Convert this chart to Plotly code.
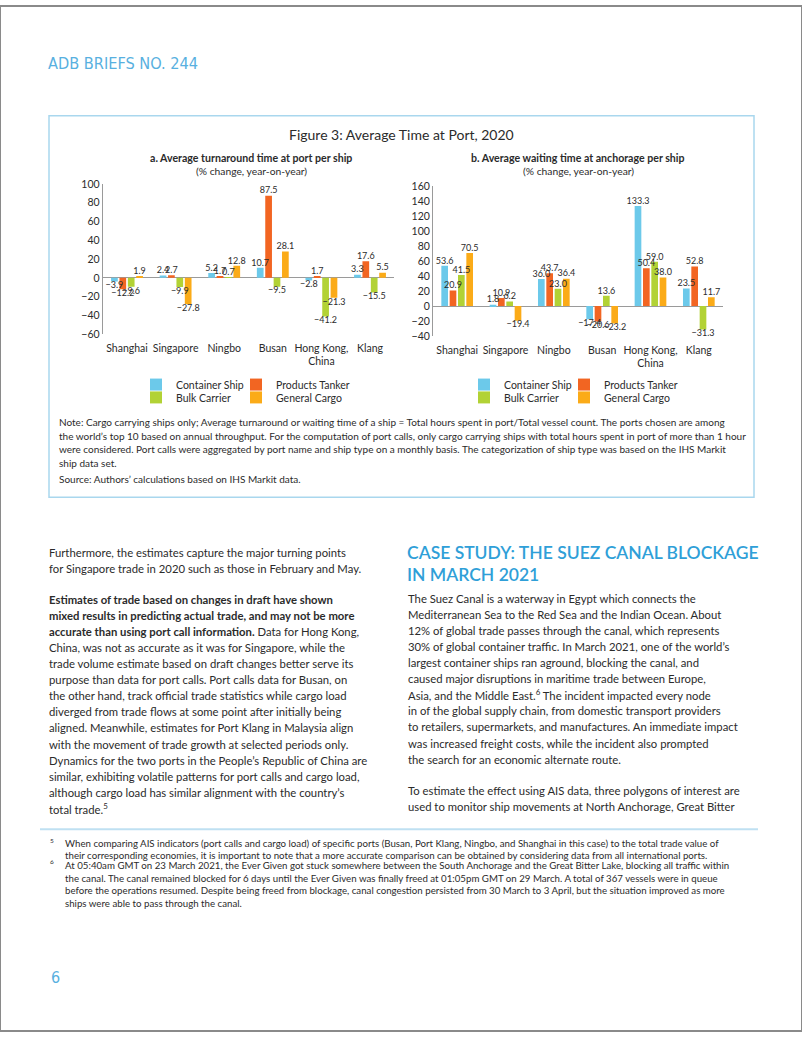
import plotly.graph_objects as go

# ---------------- data ----------------
ports = ["Shanghai", "Singapore", "Ningbo", "Busan", "Hong Kong,<br>China", "Klang"]
ship_types = ["Container Ship", "Products Tanker", "Bulk Carrier", "General Cargo"]

turn_container = [-3.9, 2.4, 5.2, 10.7, -2.8, 3.3]
turn_tanker = [-12.2, 2.7, 1.7, 87.5, 1.7, 17.6]
turn_bulk = [-9.6, -9.9, 0.7, -9.5, -41.2, -15.5]
turn_general = [1.9, -27.8, 12.8, 28.1, -21.3, 5.5]

wait_container = [53.6, 1.8, 36.0, -17.4, 133.3, 23.5]
wait_tanker = [20.9, 10.9, 43.7, -20.6, 50.4, 52.8]
wait_bulk = [41.5, 6.2, 23.0, 13.6, 59.0, -31.3]
wait_general = [70.5, -19.4, 36.4, -23.2, 38.0, 11.7]

turn_ticks = [100, 80, 60, 40, 20, 0, -20, -40, -60]
wait_ticks = [160, 140, 120, 100, 80, 60, 40, 20, 0, -20, -40]

# ---------------- styles ----------------
W, H = 802, 1037
colors = ["#6cc9ea", "#f26522", "#b2d235", "#fbab18"]
CHART_FONT = "Lato, 'Noto Sans', sans-serif"
BODY_FONT = "Lato, 'Noto Sans', sans-serif"
HEAD_FONT = "'Liberation Sans Narrow', 'Arial Narrow', 'DejaVu Sans Condensed', sans-serif"
TXT = "#2b2b2b"
BLUE = "#2f9fd8"
LIGHTBLUE = "#58b0e0"


def X(px):
    return px / W


def Y(py):
    return 1 - py / H


def fmt(v):
    return f"{v:.1f}".replace("-", "\u2212")


fig = go.Figure()

turn_series = [turn_container, turn_tanker, turn_bulk, turn_general]
wait_series = [wait_container, wait_tanker, wait_bulk, wait_general]
legend_ids = [("legend", "legend2"), ("legend3", "legend4")]
legend_widths = [55, 85, 55, 85]

for p, (series, xa, ya) in enumerate([(turn_series, "x", "y"), (wait_series, "x2", "y2")]):
    for i, (name, vals) in enumerate(zip(ship_types, series)):
        fig.add_trace(go.Bar(
            x=ports, y=vals, name=name, offsetgroup=str(i), alignmentgroup="g",
            marker=dict(color=colors[i], line=dict(width=0)),
            xaxis=xa, yaxis=ya, legend=legend_ids[p][0] if i < 2 else legend_ids[p][1],
            legendwidth=legend_widths[i],
        ))
    # value labels, drawn on top of all bars
    for i, (name, vals) in enumerate(zip(ship_types, series)):
        fig.add_trace(go.Scatter(
            x=ports, y=vals, mode="text", offsetgroup=str(i), alignmentgroup="g",
            text=[fmt(v) for v in vals],
            textposition=["top center" if v >= 0 else "bottom center" for v in vals],
            textfont=dict(family=CHART_FONT, size=9, color=TXT), cliponaxis=False,
            showlegend=False, hoverinfo="skip", xaxis=xa, yaxis=ya,
        ))

axis_common = dict(showgrid=False, ticks="", tickfont=dict(family=CHART_FONT, size=10.5, color=TXT))
fig.update_layout(
    width=W, height=H, autosize=False,
    margin=dict(l=0, r=0, t=0, b=0),
    paper_bgcolor="white", plot_bgcolor="white",
    barmode="group", bargap=0.31, bargroupgap=0.2,
    scattermode="group", scattergap=0.31,
    font=dict(family=CHART_FONT, color=TXT),
    xaxis=dict(domain=[X(102.7), X(394.3)], anchor="y", showline=False, zeroline=False,
               ticklabelstandoff=6, **axis_common),
    yaxis=dict(domain=[Y(332), Y(180)], anchor="x", range=[-60, 100], tickvals=turn_ticks,
               showline=True, linecolor="#9a9a9a", linewidth=1,
               zeroline=True, zerolinecolor="#9a9a9a", zerolinewidth=1, **axis_common),
    xaxis2=dict(domain=[X(433), X(723)], anchor="y2", showline=False, zeroline=False,
                ticklabelstandoff=6, **axis_common),
    yaxis2=dict(domain=[Y(334), Y(182)], anchor="x2", range=[-40, 160], tickvals=wait_ticks,
                showline=True, linecolor="#9a9a9a", linewidth=1,
                zeroline=True, zerolinecolor="#9a9a9a", zerolinewidth=1, **axis_common),
)

leg_common = dict(orientation="h", xanchor="left", yanchor="middle", bgcolor="rgba(0,0,0,0)",
                  font=dict(family=CHART_FONT, size=10.5, color=TXT), itemwidth=30,
                  entrywidthmode="pixels", tracegroupgap=0,
                  itemclick=False, itemdoubleclick=False)
fig.update_layout(
    legend=dict(x=X(136), y=Y(383), **leg_common),
    legend2=dict(x=X(136), y=Y(396), **leg_common),
    legend3=dict(x=X(464), y=Y(383), **leg_common),
    legend4=dict(x=X(464), y=Y(396), **leg_common),
)

# ---------------- page furniture ----------------
shapes = [
    dict(type="rect", xref="paper", yref="paper", x0=0, x1=1, y0=0, y1=1,
         line=dict(color="#8a8a8a", width=2), layer="above"),
    dict(type="rect", xref="paper", yref="paper", x0=X(49), x1=X(754), y0=Y(497), y1=Y(111),
         line=dict(color="#a9d7ee", width=1.5), layer="below"),
    dict(type="line", xref="paper", yref="paper", x0=X(40), x1=X(758), y0=Y(833), y1=Y(833),
         line=dict(color="#bfe0f2", width=2)),
]

annotations = []


def ann(text, x, y, size, family=BODY_FONT, color=TXT, xanchor="left", yanchor="middle",
        align="left", weight="normal"):
    annotations.append(dict(text=text, x=X(x), y=Y(y), xref="paper", yref="paper",
                            xanchor=xanchor, yanchor=yanchor, align=align, showarrow=False,
                            borderpad=0,
                            font=dict(family=family, size=size, color=color, weight=weight)))


def lines(items, x, y0, dy, size, **kw):
    for k, t in enumerate(items):
        ann(t, x, y0 + k * dy, size, **kw)


ann("ADB BRIEFS NO. 244", 47, 58, 16.2, family=HEAD_FONT, color=LIGHTBLUE)
ann("Figure 3: Average Time at Port, 2020", 401, 130, 14, family=CHART_FONT,
    xanchor="center", align="center")
ann("<b>a. Average turnaround time at port per ship</b>", 251, 154, 10.6,
    family=CHART_FONT, xanchor="center", align="center")
ann("(% change, year-on-year)", 251, 167, 10.3, family=CHART_FONT, xanchor="center", align="center")
ann("<b>b. Average waiting time at anchorage per ship</b>", 578, 154, 10.6,
    family=CHART_FONT, xanchor="center", align="center")
ann("(% change, year-on-year)", 578, 167, 10.3, family=CHART_FONT, xanchor="center", align="center")

note_lines = [
    "Note: Cargo carrying ships only; Average turnaround or waiting time of a ship = Total hours spent in port/Total vessel count. The ports chosen are among",
    "the world\u2019s top 10 based on annual throughput. For the computation of port calls, only cargo carrying ships with total hours spent in port of more than 1 hour",
    "were considered. Port calls were aggregated by port name and ship type on a monthly basis. The categorization of ship type was based on the IHS Markit",
    "ship data set.",
]
lines(note_lines, 58, 421, 13.7, 10)
ann("Source: Authors\u2019 calculations based on IHS Markit data.", 58, 479, 10)

left_p1 = [
    "Furthermore, the estimates capture the major turning points",
    "for Singapore trade in 2020 such as those in February and May.",
]
left_p2 = [
    "<b>Estimates of trade based on changes in draft have shown</b>",
    "<b>mixed results in predicting actual trade, and may not be more</b>",
    "<b>accurate than using port call information.</b> Data for Hong Kong,",
    "China, was not as accurate as it was for Singapore, while the",
    "trade volume estimate based on draft changes better serve its",
    "purpose than data for port calls. Port calls data for Busan, on",
    "the other hand, track official trade statistics while cargo load",
    "diverged from trade flows at some point after initially being",
    "aligned. Meanwhile, estimates for Port Klang in Malaysia align",
    "with the movement of trade growth at selected periods only.",
    "Dynamics for the two ports in the People\u2019s Republic of China are",
    "similar, exhibiting volatile patterns for port calls and cargo load,",
    "although cargo load has similar alignment with the country\u2019s",
    "total trade.<sup>5</sup>",
]
right_p1 = [
    "The Suez Canal is a waterway in Egypt which connects the",
    "Mediterranean Sea to the Red Sea and the Indian Ocean. About",
    "12% of global trade passes through the canal, which represents",
    "30% of global container traffic. In March 2021, one of the world\u2019s",
    "largest container ships ran aground, blocking the canal, and",
    "caused major disruptions in maritime trade between Europe,",
    "Asia, and the Middle East.<sup>6</sup> The incident impacted every node",
    "in of the global supply chain, from domestic transport providers",
    "to retailers, supermarkets, and manufactures. An immediate impact",
    "was increased freight costs, while the incident also prompted",
    "the search for an economic alternate route.",
]
right_p2 = [
    "To estimate the effect using AIS data, three polygons of interest are",
    "used to monitor ship movements at North Anchorage, Great Bitter",
]
BODY = 11.3
lines(left_p1, 48, 552.5, 16.3, BODY)
lines(left_p2, 48, 600, 16.3, BODY)
ann("CASE STUDY: THE SUEZ CANAL BLOCKAGE", 406, 553, 17.5, family=CHART_FONT, color=BLUE, weight=600)
ann("IN MARCH 2021", 406, 575, 17.5, family=CHART_FONT, color=BLUE, weight=600)
lines(right_p1, 407, 599, 16.3, BODY)
lines(right_p2, 407, 794, 16.3, BODY)

fn5 = [
    "When comparing AIS indicators (port calls and cargo load) of specific ports (Busan, Port Klang, Ningbo, and Shanghai in this case) to the total trade value of",
    "their corresponding economies, it is important to note that a more accurate comparison can be obtained by considering data from all international ports.",
]
fn6 = [
    "At 05:40am GMT on 23 March 2021, the Ever Given got stuck somewhere between the South Anchorage and the Great Bitter Lake, blocking all traffic within",
    "the canal. The canal remained blocked for 6 days until the Ever Given was finally freed at 01:05pm GMT on 29 March. A total of 367 vessels were in queue",
    "before the operations resumed. Despite being freed from blockage, canal congestion persisted from 30 March to 3 April, but the situation improved as more",
    "ships were able to pass through the canal.",
]
ann("5", 49, 844, 6.5)
lines(fn5, 64, 847, 12.4, 9.7)
ann("6", 49, 866, 6.5)
lines(fn6, 64, 869.5, 12.5, 9.7)
ann("6", 50, 983, 16, family=HEAD_FONT, color=LIGHTBLUE)

fig.update_layout(shapes=shapes, annotations=annotations)

fig.write_html("out.html", config={"displayModeBar": False},
               post_script="document.body.style.margin='0';document.body.style.overflow='hidden';")
